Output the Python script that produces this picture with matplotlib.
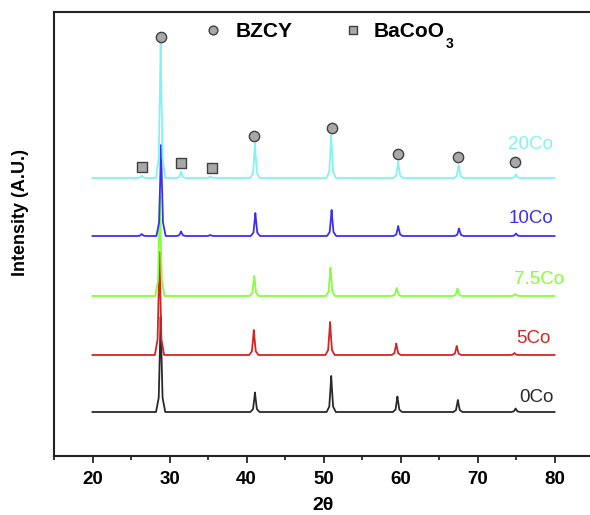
import numpy as np
import matplotlib
matplotlib.use("Agg")
import matplotlib.pyplot as plt

# ---------------------------------------------------------------------------
# Data (intensity in arbitrary, stacked units)
# ---------------------------------------------------------------------------

SAMPLES = ["0Co", "5Co", "7.5Co", "10Co", "20Co"]
BASELINES = [44, 101, 160, 220, 278]

# BZCY reflections per sample: (2theta, peak height above baseline)
BZCY_POS = {
    "0Co":   [28.85, 41.10, 51.00, 59.60, 67.45, 74.95],
    "5Co":   [28.70, 40.95, 50.85, 59.45, 67.30, 74.80],
    "7.5Co": [28.75, 41.00, 50.90, 59.50, 67.40, 74.90],
    "10Co":  [28.90, 41.15, 51.05, 59.70, 67.60, 75.00],
    "20Co":  [28.85, 41.10, 51.00, 59.70, 67.55, 75.00],
}
BZCY_HEIGHT = {
    "0Co":   [95, 19.5, 36, 15.5, 12, 3.5],
    "5Co":   [103, 25, 33, 11.5, 9, 2],
    "7.5Co": [100, 20, 28.5, 8, 7.5, 2],
    "10Co":  [91, 23, 26, 10, 7.5, 2.5],
    "20Co":  [136, 34.5, 43, 16.5, 13, 3.5],
}
# BaCoO3 reflections (only in the Co-rich samples)
BACOO3_POS = [26.4, 31.5, 35.3]
BACOO3_HEIGHT = {
    "0Co":   [0, 0, 0],
    "5Co":   [0, 0, 0],
    "7.5Co": [0, 0, 0],
    "10Co":  [2, 4.5, 1],
    "20Co":  [2.5, 6.5, 1.5],
}

SCAN_START, SCAN_END = 20, 80

# phase markers above the 20Co pattern
CIRCLE_X = [28.86, 40.96, 51.05, 59.7, 67.5, 74.9]
CIRCLE_Y = [419, 320.5, 328, 302, 299, 294]
SQUARE_X = [26.46, 31.5, 35.5]
SQUARE_Y = [289, 293, 288]

COLORS = {
    "0Co": "#2a2a2a",
    "5Co": "#d42424",
    "7.5Co": "#84ff3a",
    "10Co": "#3a30f2",
    "20Co": "#84f2f2",
}
LABEL_POS = {  # right edge x, centre y
    "0Co": (79.9, 59),
    "5Co": (79.5, 117.5),
    "7.5Co": (81.2, 176),
    "10Co": (79.9, 237.5),
    "20Co": (79.8, 312),
}

# peak shape template (offset in 2theta, fraction of height)
SHAPE_DX = [-0.6, -0.25, -0.08, 0.0, 0.08, 0.25, 0.6]
SHAPE_FR = [0.0, 0.15, 0.7, 1.0, 0.7, 0.15, 0.0]


def pattern(base, positions, heights):
    xs, ys = [SCAN_START], [base]
    peaks = sorted(zip(positions, heights))
    for pos, h in peaks:
        if h <= 0:
            continue
        for dx, fr in zip(SHAPE_DX, SHAPE_FR):
            xs.append(pos + dx)
            ys.append(base + fr * h)
    xs.append(SCAN_END)
    ys.append(base)
    return np.array(xs), np.array(ys)


def main():
    plt.rcParams["font.family"] = ["Liberation Sans", "DejaVu Sans"]

    fig = plt.figure(figsize=(5.9, 5.15), dpi=100)
    ax = fig.add_axes([54 / 590, 59 / 515, 539 / 590, 444 / 515])

    for name, base in zip(SAMPLES, BASELINES):
        pos = BZCY_POS[name] + BACOO3_POS
        hts = BZCY_HEIGHT[name] + BACOO3_HEIGHT[name]
        x, y = pattern(base, pos, hts)
        ax.plot(x, y, color=COLORS[name], linewidth=1.3)
        lx, ly = LABEL_POS[name]
        ax.text(lx, ly, name, color=COLORS[name], fontsize=13.5,
                ha="right", va="center")

    ax.scatter(CIRCLE_X, CIRCLE_Y, s=55, marker="o", facecolor="#a8a8a8",
               edgecolor="#404040", linewidth=1.0, zorder=5)
    ax.scatter(SQUARE_X, SQUARE_Y, s=55, marker="s", facecolor="#a8a8a8",
               edgecolor="#404040", linewidth=1.0, zorder=5)

    # phase key
    ax.scatter([35.6], [426], s=40, marker="o", facecolor="#a8a8a8",
               edgecolor="#404040", linewidth=1.0, zorder=5)
    ax.scatter([53.8], [426], s=40, marker="s", facecolor="#a8a8a8",
               edgecolor="#404040", linewidth=1.0, zorder=5)
    ax.text(38.6, 425, "BZCY", fontsize=15, fontweight="bold", ha="left", va="center")
    ax.text(56.5, 425, "BaCoO", fontsize=15, fontweight="bold", ha="left", va="center")
    ax.text(65.9, 412, "3", fontsize=10, fontweight="bold", ha="left", va="center")

    ax.set_xlim(15, 85)
    ax.set_ylim(0, 444)
    ax.set_xticks(np.arange(20, 81, 10))
    ax.set_xticks(np.arange(15, 86, 10), minor=True)
    ax.set_yticks([])
    ax.tick_params(axis="x", which="major", direction="out", length=5, width=1.1,
                   labelsize=13.5, pad=6)
    ax.tick_params(axis="x", which="minor", direction="out", length=3, width=1.1)
    for lab in ax.get_xticklabels():
        lab.set_fontweight("bold")
    for sp in ax.spines.values():
        sp.set_linewidth(1.5)
        sp.set_color("#222222")

    fig.text(323 / 590, 1 - 506 / 515, "2\u03b8", fontsize=14, fontweight="bold",
             ha="center", va="center")
    fig.text(21 / 590, 1 - 212 / 515, "Intensity (A.U.)", fontsize=13,
             fontweight="bold", rotation=90, ha="center", va="center")

    fig.savefig("out.png", dpi=100)
    plt.close(fig)


if __name__ == "__main__":
    main()
